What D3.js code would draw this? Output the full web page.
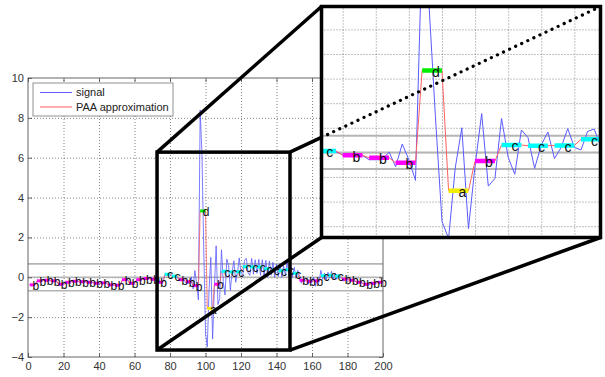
<!DOCTYPE html>
<html>
<head>
<meta charset="utf-8">
<script src="https://cdn.jsdelivr.net/npm/d3@7"></script>
<style>
  body { margin: 0; background: #fff; }
  svg { display: block; font-family: "Liberation Sans", Arial, Helvetica, sans-serif; }
</style>
</head>
<body>
<svg id="chart" width="605" height="377"></svg>
<script>
// ---- data ---------------------------------------------------------------
// raw signal, samples 1..200
const signal = [
  -0.35,-0.42,-0.40,-0.35,  -0.22,-0.15,-0.17,-0.18,  -0.12,-0.16,-0.18,-0.14,  -0.20,-0.15,-0.19,-0.18,
  -0.30,-0.38,-0.40,-0.32,  -0.27,-0.22,-0.26,-0.25,  -0.18,-0.22,-0.20,-0.20,  -0.24,-0.20,-0.22,-0.22,
  -0.23,-0.27,-0.25,-0.25,  -0.28,-0.32,-0.30,-0.30,  -0.30,-0.26,-0.29,-0.27,  -0.35,-0.40,-0.40,-0.37,
  -0.42,-0.41,-0.38,-0.39,  -0.20,-0.10,-0.08,-0.10,  -0.22,-0.32,-0.35,-0.31,  -0.18,-0.10,-0.10,-0.10,
  -0.08,-0.04,-0.05,-0.07,  -0.06,-0.10,-0.12,-0.12,  -0.20,-0.26,-0.28,-0.26,   0.05, 0.18, 0.20, 0.17,
   0.12, 0.02, 0.08, 0.02,  -0.10,-0.15,-0.10,-0.13,  -0.30,-0.30,-0.30, 0.02,  -0.58, 0.34,-0.30,-1.14,
   8.40, 6.20, 1.50,-2.80,  -3.50,-0.64, 1.00,-3.10,  -0.55, 1.58,-1.37,-1.06,   1.38,-0.20,-0.89, 0.91,
   0.60,-0.65, 0.30, 0.83,  -0.25, 0.20, 0.97, 0.20,   0.10, 0.85, 0.95, 0.22,   0.10, 0.95, 0.15, 0.88,
   0.20, 0.90, 0.10, 0.88,   0.05, 0.85, 0.00, 0.82,   0.10, 0.75, 0.00, 0.67,   0.05, 0.70, 0.00, 0.57,
   0.10, 0.80, 0.05, 0.57,   0.00, 0.50,-0.05, 0.35,   0.00,-0.30,-0.10,-0.20,  -0.10,-0.35,-0.10,-0.25,
   0.00,-0.45,-0.05,-0.22,   0.35,-0.10, 0.20,-0.13,   0.25,-0.05, 0.30,-0.10,   0.20,-0.10, 0.15,-0.01,
   0.00,-0.20,-0.05,-0.15,  -0.10,-0.20,-0.10,-0.20,  -0.20,-0.30,-0.20,-0.30,  -0.30,-0.40,-0.30,-0.40,
  -0.25,-0.35,-0.28,-0.32,  -0.22,-0.28,-0.24,-0.26
];

// piecewise aggregate approximation: one mean per block of 4 samples
const segmentLength = 4;
const paaValues = [
  -0.38,-0.18,-0.15,-0.18,-0.35,-0.25,-0.20,-0.22,-0.25,-0.30,
  -0.28,-0.38,-0.40,-0.12,-0.30,-0.12,-0.06,-0.10,-0.25, 0.15,
   0.06,-0.12,-0.22,-0.42, 3.33,-1.56,-0.35, 0.30, 0.27, 0.28,
   0.53, 0.52, 0.52, 0.43, 0.38, 0.33, 0.38, 0.20,-0.15,-0.20,
  -0.18, 0.08, 0.10, 0.06,-0.10,-0.15,-0.25,-0.35,-0.30,-0.25
];

// SAX word (alphabet of 4 symbols)
const saxSymbols = [
  "b","b","b","b","b","b","b","b","b","b",
  "b","b","b","b","b","b","b","b","b","c",
  "c","b","b","b","d","a","b","c","c","c",
  "c","c","c","c","c","c","c","c","b","b",
  "b","c","c","c","b","b","b","b","b","b"
];

const breakpoints = [-0.6745, 0, 0.6745];
const symbolColors = { a: "#f2ee00", b: "#ff00ff", c: "#00ffff", d: "#00ee00" };

const xTicks = [0, 20, 40, 60, 80, 100, 120, 140, 160, 180, 200];
const yTicks = [-4, -2, 0, 2, 4, 6, 8, 10];
const insetXTicks = [85, 90, 95, 100, 105, 110, 115, 120];
const insetYTicks = [-3, -2, -1, 0, 1, 2, 3, 4, 5];
const legendLabels = ["signal", "PAA approximation"];

// highlighted window in the main plot and the inset's own limits
const zoomWindow = { x0: 72.7, x1: 147.6, y0: -3.65, y1: 6.28 };
const insetDomain = { x0: 81.8, x1: 123.95, y0: -3.46, y1: 5.93 };

// ---- derived series ----------------------------------------------------
const signalPts = signal.map((v, i) => ({ x: i + 1, v }));
const paaPts = signal.map((v, i) => ({ x: i + 1, v: paaValues[Math.floor(i / segmentLength)] }));
const segments = paaValues.map((v, k) => ({
  x0: k * segmentLength + 1,
  x1: (k + 1) * segmentLength,
  v,
  s: saxSymbols[k]
}));
const segMid = d => (d.x0 + d.x1) / 2;

const svg = d3.select("#chart");

// ---- main axes ---------------------------------------------------------
const M = { left: 28, right: 383, top: 78, bottom: 357 };
const x = d3.scaleLinear().domain([0, 200]).range([M.left, M.right]);
const y = d3.scaleLinear().domain([-4, 10]).range([M.bottom, M.top]);
const plotW = M.right - M.left, plotH = M.bottom - M.top;

svg.append("clipPath").attr("id", "mainClip")
  .append("rect").attr("x", M.left).attr("y", M.top).attr("width", plotW).attr("height", plotH);

function styleGrid(g) {
  g.select(".domain").remove();
  g.selectAll("text").remove();
  g.selectAll("line").attr("stroke", "#666").attr("stroke-width", 0.8).attr("stroke-dasharray", "1,2");
}

svg.append("g").attr("transform", `translate(0,${M.bottom})`)
  .call(d3.axisBottom(x).tickValues(xTicks.slice(1, -1)).tickSize(-plotH).tickFormat(""))
  .call(styleGrid);
svg.append("g").attr("transform", `translate(${M.left},0)`)
  .call(d3.axisLeft(y).tickValues(yTicks.slice(1, -1)).tickSize(-plotW).tickFormat(""))
  .call(styleGrid);

const main = svg.append("g").attr("clip-path", "url(#mainClip)");

main.selectAll("line.bp").data(breakpoints).join("line")
  .attr("class", "bp")
  .attr("x1", x(0)).attr("x2", x(200))
  .attr("y1", d => y(d)).attr("y2", d => y(d))
  .attr("stroke", "#b4b4b4").attr("stroke-width", 1.6);

const mainLine = d3.line().x(d => x(d.x)).y(d => y(d.v));
main.append("path").datum(signalPts).attr("d", mainLine)
  .attr("fill", "none").attr("stroke", "#5a5aff").attr("stroke-width", 0.8);
main.append("path").datum(paaPts).attr("d", mainLine)
  .attr("fill", "none").attr("stroke", "#ff6060").attr("stroke-width", 0.8);

main.selectAll("line.seg").data(segments).join("line")
  .attr("class", "seg")
  .attr("x1", d => x(d.x0)).attr("x2", d => x(d.x1))
  .attr("y1", d => y(d.v)).attr("y2", d => y(d.v))
  .attr("stroke", d => symbolColors[d.s]).attr("stroke-width", 3);

svg.append("g").selectAll("text.sym").data(segments).join("text")
  .attr("class", "sym")
  .attr("x", d => x(segMid(d)))
  .attr("y", d => y(d.v))
  .attr("dy", "0.1em")
  .attr("dominant-baseline", "central")
  .attr("font-size", 12).attr("fill", "#111")
  .text(d => d.s);

// tick marks (inward) and labels
function styleAxis(g, labels) {
  g.select(".domain").remove();
  g.selectAll("line").attr("stroke", "#444").attr("stroke-width", 0.8);
  if (labels) g.selectAll("text").attr("font-size", 11).attr("fill", "#333");
  else g.selectAll("text").remove();
}
svg.append("g").attr("transform", `translate(0,${M.bottom})`)
  .call(d3.axisBottom(x).tickValues(xTicks).tickSizeInner(-4).tickSizeOuter(0).tickPadding(5))
  .call(g => styleAxis(g, true));
svg.append("g").attr("transform", `translate(0,${M.top})`)
  .call(d3.axisTop(x).tickValues(xTicks).tickSizeInner(-4).tickSizeOuter(0))
  .call(g => styleAxis(g, false));
svg.append("g").attr("transform", `translate(${M.left},0)`)
  .call(d3.axisLeft(y).tickValues(yTicks).tickSizeInner(-4).tickSizeOuter(0).tickPadding(4))
  .call(g => styleAxis(g, true));
svg.append("g").attr("transform", `translate(${M.right},0)`)
  .call(d3.axisRight(y).tickValues(yTicks).tickSizeInner(-4).tickSizeOuter(0))
  .call(g => styleAxis(g, false));

svg.append("rect").attr("x", M.left).attr("y", M.top).attr("width", plotW).attr("height", plotH)
  .attr("fill", "none").attr("stroke", "#555").attr("stroke-width", 0.9);

// legend
const legend = svg.append("g").attr("transform", "translate(33,83)");
legend.append("rect").attr("width", 140).attr("height", 33)
  .attr("fill", "#fff").attr("stroke", "#777").attr("stroke-width", 0.8);
const legendColors = ["#5a5aff", "#ff6060"];
legendLabels.forEach((label, i) => {
  const ly = 9.5 + i * 14.5;
  legend.append("line").attr("x1", 7).attr("x2", 39).attr("y1", ly).attr("y2", ly)
    .attr("stroke", legendColors[i]).attr("stroke-width", 1);
  legend.append("text").attr("x", 43).attr("y", ly).attr("dy", "0.35em")
    .attr("font-size", 11).attr("fill", "#222").text(label);
});

// ---- inset -------------------------------------------------------------
const I = { left: 321.5, right: 600.5, top: 6.5, bottom: 237.5 };
const ix = d3.scaleLinear().domain([insetDomain.x0, insetDomain.x1]).range([I.left, I.right]);
const iy = d3.scaleLinear().domain([insetDomain.y0, insetDomain.y1]).range([I.bottom, I.top]);
const insetW = I.right - I.left, insetH = I.bottom - I.top;

// window box and connectors in the main plot
const box = {
  l: x(zoomWindow.x0), r: x(zoomWindow.x1),
  t: y(zoomWindow.y1), b: y(zoomWindow.y0)
};
const zoomG = svg.append("g").attr("stroke", "#000").attr("stroke-width", 3.5).attr("fill", "none");
zoomG.append("rect").attr("x", box.l).attr("y", box.t)
  .attr("width", box.r - box.l).attr("height", box.b - box.t);
const connectors = [
  [box.l, box.t, I.left, I.top],
  [box.r, box.t, I.right, I.top],
  [box.l, box.b, I.left, I.bottom],
  [box.r, box.b, I.right, I.bottom]
];
zoomG.selectAll("line").data(connectors).join("line")
  .attr("x1", d => d[0]).attr("y1", d => d[1]).attr("x2", d => d[2]).attr("y2", d => d[3]);

const inset = svg.append("g");
inset.append("rect").attr("x", I.left).attr("y", I.top).attr("width", insetW).attr("height", insetH)
  .attr("fill", "#fff");
svg.append("clipPath").attr("id", "insetClip")
  .append("rect").attr("x", I.left).attr("y", I.top).attr("width", insetW).attr("height", insetH);

inset.append("g").attr("transform", `translate(0,${I.bottom})`)
  .call(d3.axisBottom(ix).tickValues(insetXTicks).tickSize(-insetH).tickFormat(""))
  .call(styleGrid);
inset.append("g").attr("transform", `translate(${I.left},0)`)
  .call(d3.axisLeft(iy).tickValues(insetYTicks).tickSize(-insetW).tickFormat(""))
  .call(styleGrid);

const insetPlot = inset.append("g").attr("clip-path", "url(#insetClip)");
insetPlot.selectAll("line.bp").data(breakpoints).join("line")
  .attr("class", "bp")
  .attr("x1", I.left).attr("x2", I.right)
  .attr("y1", d => iy(d)).attr("y2", d => iy(d))
  .attr("stroke", "#b4b4b4").attr("stroke-width", 2);

const insetLine = d3.line().x(d => ix(d.x)).y(d => iy(d.v));
insetPlot.append("path").datum(signalPts).attr("d", insetLine)
  .attr("fill", "none").attr("stroke", "#5a5aff").attr("stroke-width", 1);
insetPlot.append("path").datum(paaPts).attr("d", insetLine)
  .attr("fill", "none").attr("stroke", "#ff6060").attr("stroke-width", 1);

// only the segments that fall inside the inset's window
const insetSegments = segments.filter(d => d.x1 > insetDomain.x0 && d.x0 < insetDomain.x1);
insetPlot.selectAll("line.seg").data(insetSegments).join("line")
  .attr("class", "seg")
  .attr("x1", d => ix(d.x0)).attr("x2", d => ix(d.x1))
  .attr("y1", d => iy(d.v)).attr("y2", d => iy(d.v))
  .attr("stroke", d => symbolColors[d.s]).attr("stroke-width", 4.5);

inset.selectAll("text.sym").data(insetSegments.filter(d => segMid(d) > insetDomain.x0 && segMid(d) < insetDomain.x1 - 1))
  .join("text")
  .attr("class", "sym")
  .attr("x", d => ix(segMid(d)))
  .attr("y", d => iy(d.v))
  .attr("dy", "0.1em")
  .attr("dominant-baseline", "central")
  .attr("font-size", 14).attr("fill", "#111")
  .text(d => d.s);

// connector continuing across the inset, dotted
const across = connectors[1];
const tEnter = (I.left - across[0]) / (across[2] - across[0]);
inset.append("line")
  .attr("x1", I.left).attr("y1", across[1] + tEnter * (across[3] - across[1]))
  .attr("x2", across[2]).attr("y2", across[3])
  .attr("stroke", "#000").attr("stroke-width", 3.2)
  .attr("stroke-linecap", "round").attr("stroke-dasharray", "0.1,6.6");

inset.append("rect").attr("x", I.left).attr("y", I.top).attr("width", insetW).attr("height", insetH)
  .attr("fill", "none").attr("stroke", "#000").attr("stroke-width", 3.5);
</script>
</body>
</html>
